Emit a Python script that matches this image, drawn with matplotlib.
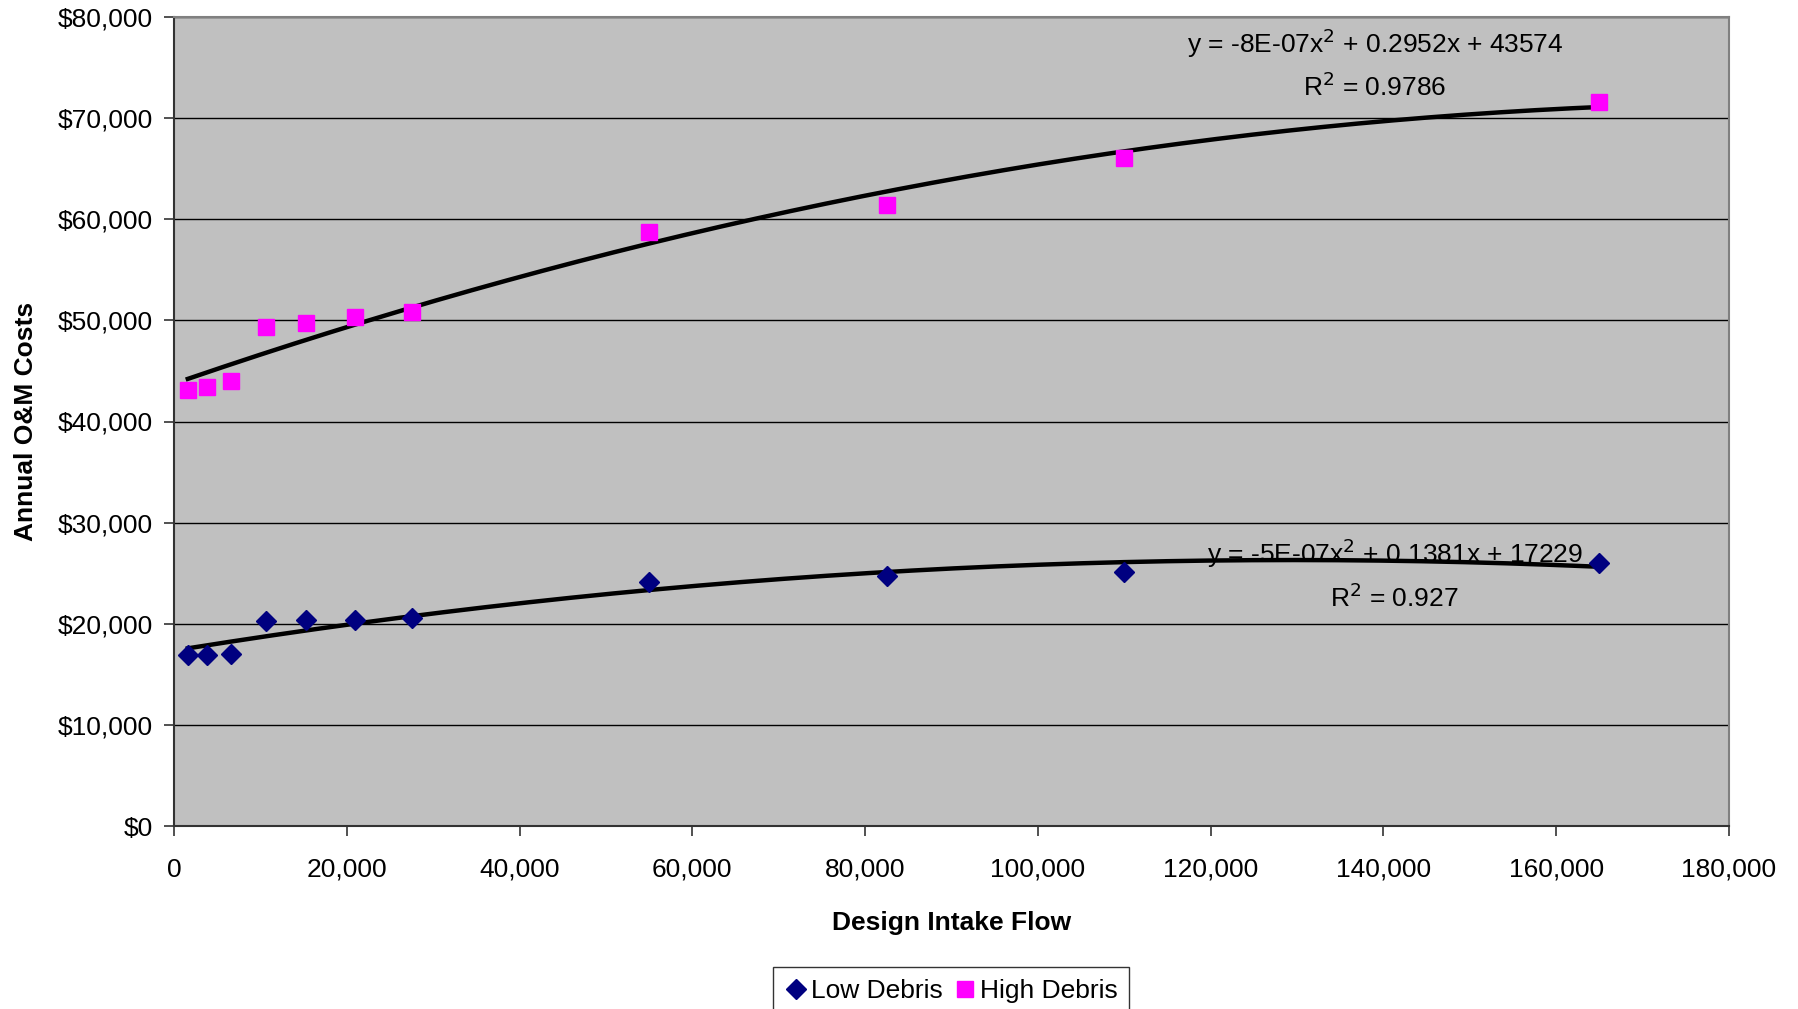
import numpy as np
import matplotlib.pyplot as plt
from matplotlib.ticker import FuncFormatter, MultipleLocator

plt.rcParams["font.family"] = ["Liberation Sans", "DejaVu Sans"]

# design intake flow values
flow = [1600, 3850, 6650, 10600, 15300, 20900, 27500, 55000, 82500, 110000, 165000]
low_debris = [16950, 16950, 17050, 20300, 20400, 20400, 20600, 24150, 24700, 25150, 26050]
high_debris = [43100, 43450, 44000, 49350, 49700, 50350, 50800, 58750, 61450, 66100, 71550]

low_eq = "y = -5E-07x$^2$ + 0.1381x + 17229\nR$^2$ = 0.927"
high_eq = "y = -8E-07x$^2$ + 0.2952x + 43574\nR$^2$ = 0.9786"

fig = plt.figure(figsize=(17.99, 10.09), dpi=100)
ax = fig.add_axes([174 / 1799, 1 - 826 / 1009, (1729 - 174) / 1799, (826 - 17) / 1009])
ax.set_facecolor("#C0C0C0")

x = np.array(flow, dtype=float)
xs = np.linspace(x.min(), x.max(), 200)
for ys in (low_debris, high_debris):
    coef = np.polyfit(x, np.array(ys, dtype=float), 2)
    ax.plot(xs, np.polyval(coef, xs), color="black", lw=3.2, zorder=3)

ax.plot(flow, low_debris, "D", color="#000080", ms=10, ls="none",
        label="Low Debris", zorder=4)
ax.plot(flow, high_debris, "s", color="#FF00FF", ms=12, ls="none",
        label="High Debris", zorder=4)

ax.text(139000, 75400, high_eq, ha="center", va="center", fontsize=19,
        linespacing=1.55, zorder=2)
ax.text(141300, 24900, low_eq, ha="center", va="center", fontsize=19,
        linespacing=1.55, zorder=2)

ax.set_xlim(0, 180000)
ax.set_ylim(0, 80000)
ax.xaxis.set_major_locator(MultipleLocator(20000))
ax.yaxis.set_major_locator(MultipleLocator(10000))
ax.xaxis.set_major_formatter(FuncFormatter(lambda v, p: f"{v:,.0f}"))
ax.yaxis.set_major_formatter(FuncFormatter(lambda v, p: f"${v:,.0f}"))
ax.grid(axis="y", color="black", lw=1.0, zorder=1)
ax.set_axisbelow(True)
ax.tick_params(labelsize=19, direction="out", length=7, width=1.2, color="#333333")
ax.tick_params(axis="x", pad=16)
ax.tick_params(axis="y", pad=8.5)
for side in ("left", "bottom"):
    ax.spines[side].set_color("#333333")
    ax.spines[side].set_linewidth(1.5)
for side in ("top", "right"):
    ax.spines[side].set_color("#808080")
    ax.spines[side].set_linewidth(1.5)

ax.set_xlabel("Design Intake Flow", fontsize=19, fontweight="bold", labelpad=21)
ax.set_ylabel("Annual O&M Costs", fontsize=19, fontweight="bold", labelpad=14)

leg = fig.legend(loc="upper center", bbox_to_anchor=(951 / 1799, 1 - 967 / 1009),
                 ncol=2, fontsize=19, frameon=True, fancybox=False,
                 edgecolor="black", handletextpad=0.1, columnspacing=0.4,
                 borderpad=0.45, handlelength=0.9, borderaxespad=0)
leg.get_frame().set_linewidth(1.0)

fig.savefig("out.png", dpi=100)
